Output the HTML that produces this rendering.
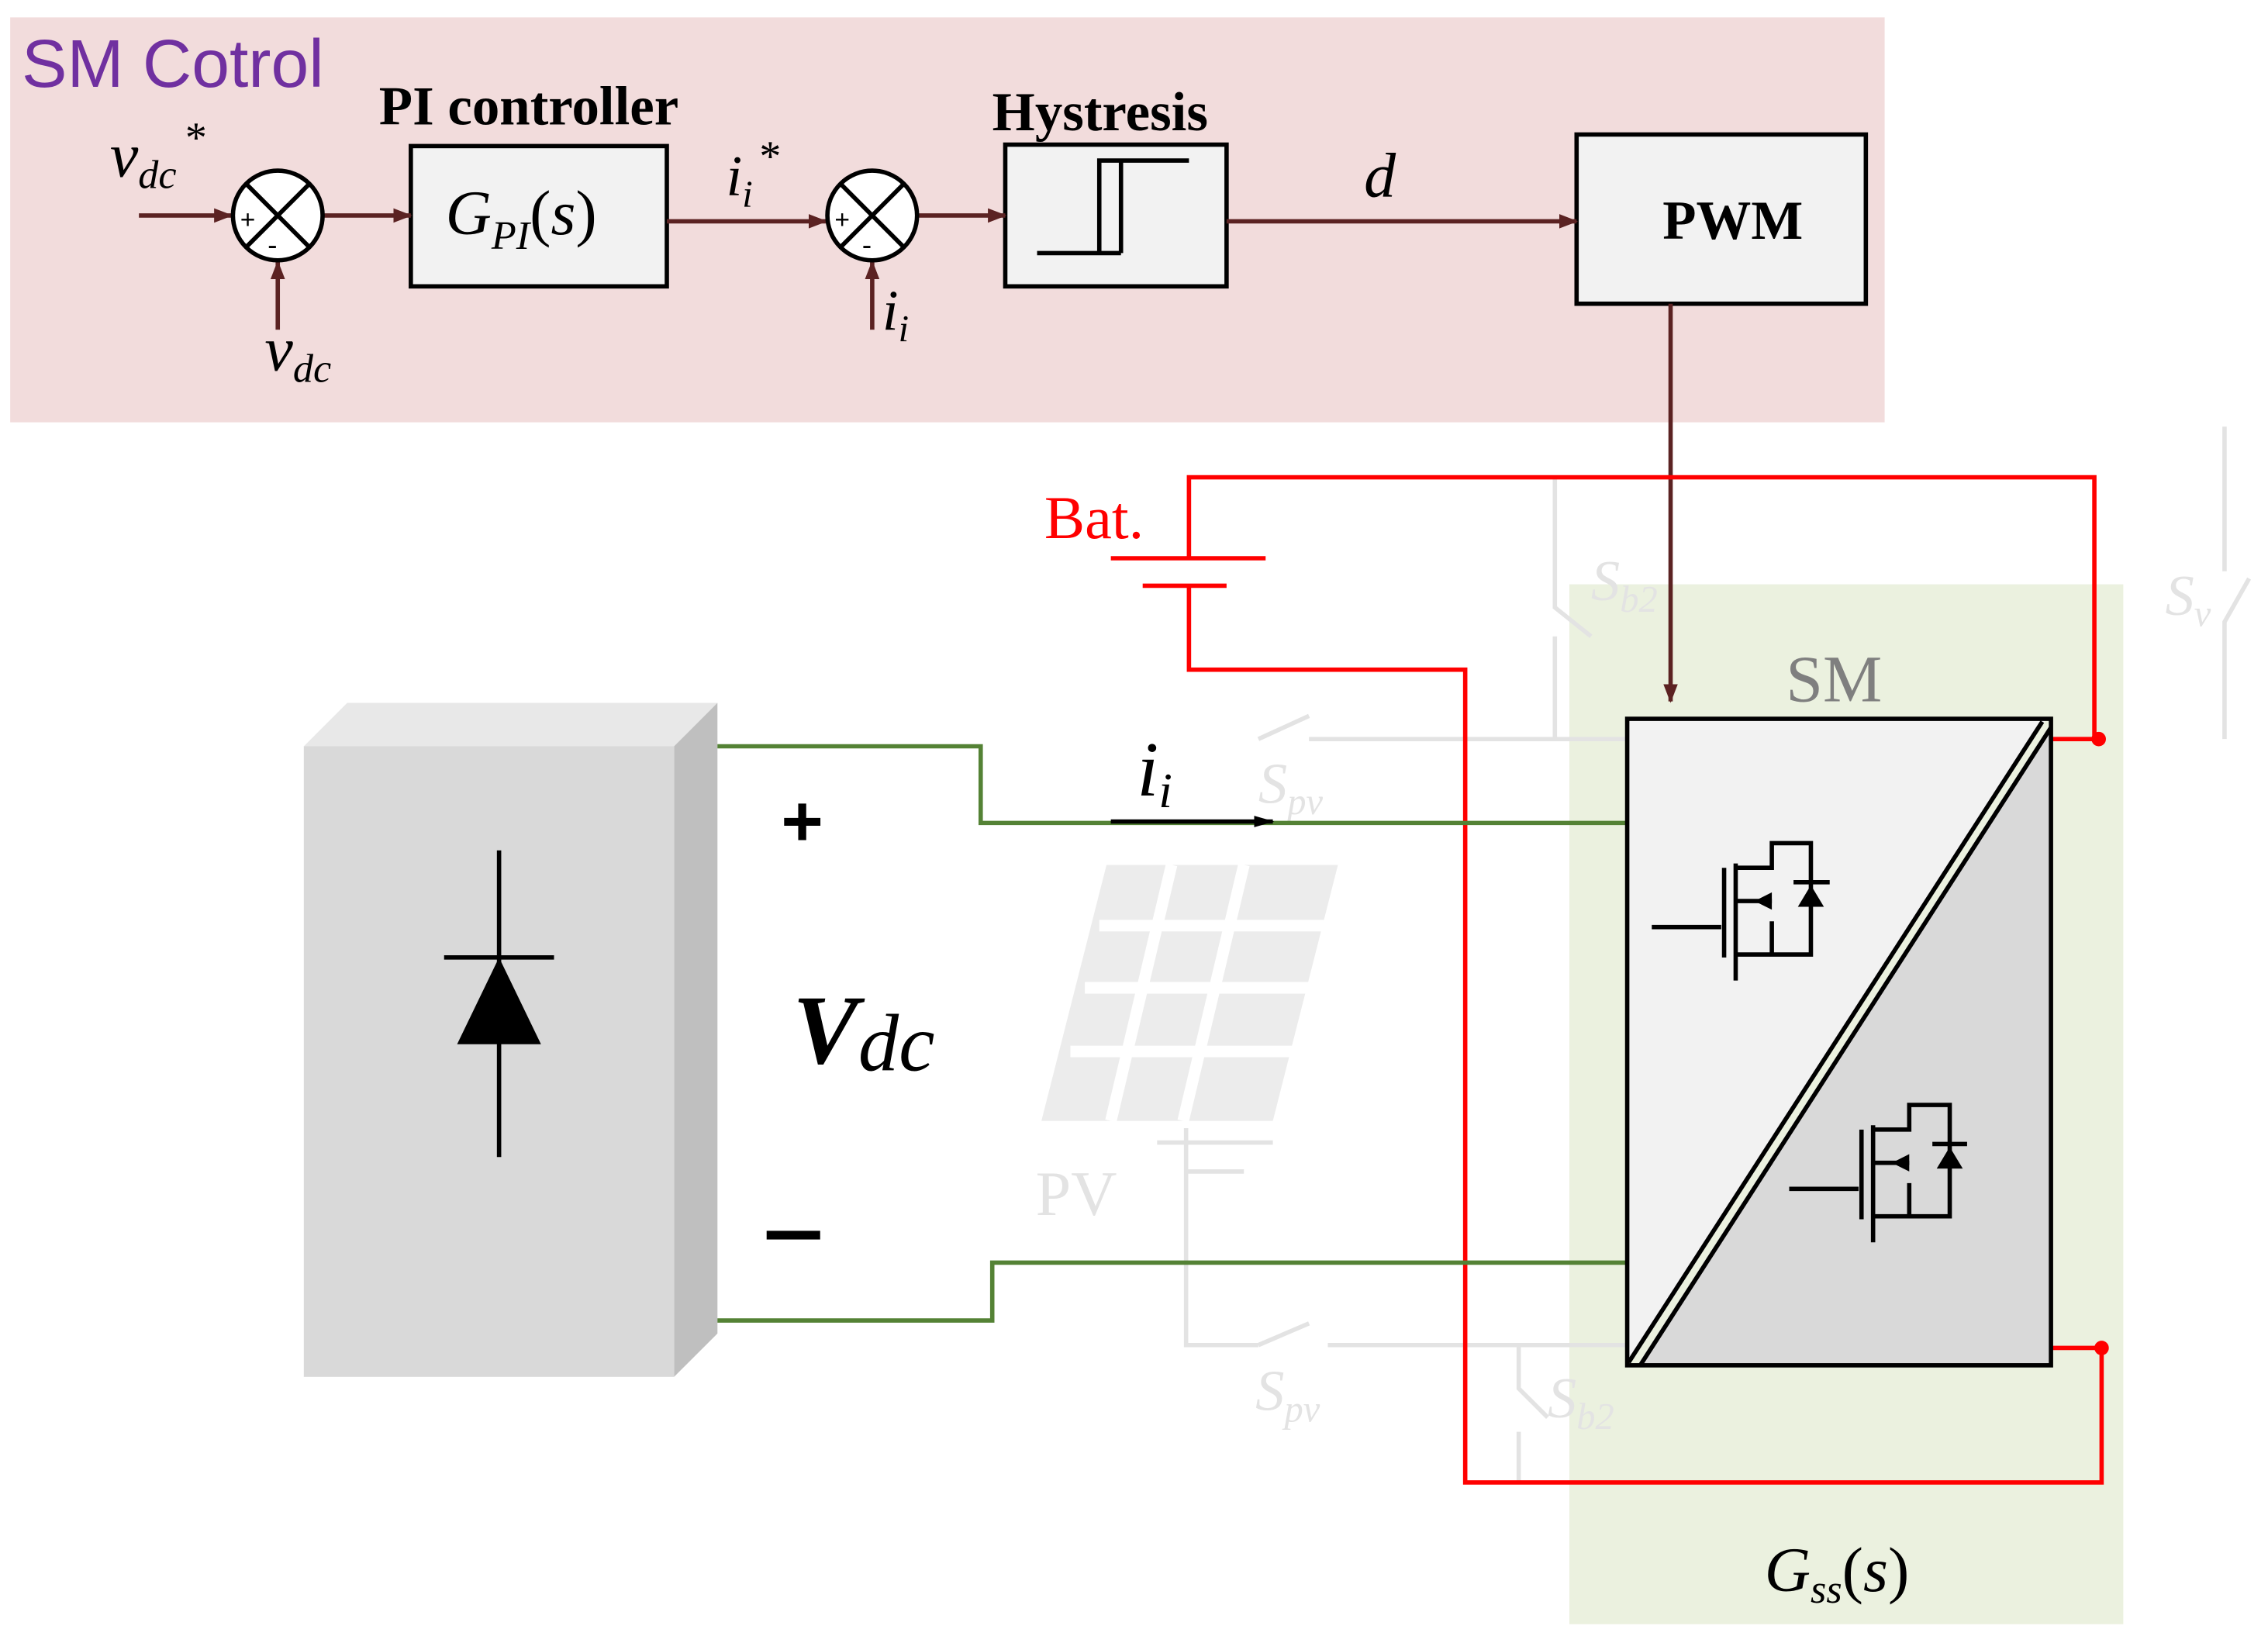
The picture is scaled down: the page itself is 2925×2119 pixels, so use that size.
<!DOCTYPE html>
<html><head><meta charset="utf-8"><style>html,body{margin:0;padding:0;background:#fff}svg{display:block}</style></head>
<body>
<svg width="2925" height="2119" viewBox="0 0 1568 1136" xmlns="http://www.w3.org/2000/svg">
<defs>
<marker id="ar" markerWidth="13" markerHeight="12" refX="12" refY="6" orient="auto" markerUnits="userSpaceOnUse"><path d="M0,1 L13,6 L0,11 Z" fill="#5b2222"/></marker>
<marker id="ak" markerWidth="14" markerHeight="10" refX="13" refY="5" orient="auto" markerUnits="userSpaceOnUse"><path d="M0,1 L14,5 L0,9 Z" fill="#000"/></marker>
</defs>
<rect x="7" y="12" width="1296" height="280" fill="#f2dcdc"/>
<rect x="1085" y="404" width="383" height="719" fill="#ebf1df"/>
<g stroke="#e3e3e3" stroke-width="3" fill="none">
<path d="M1075,330 V420 L1100,440 M1075,440 V511 H1125"/>
<path d="M1538,295 V395 M1555,400 L1538,430 V511"/>
<path d="M820,780 V930 H870 M905,915 L870,930 M918,930 H1125"/>
<path d="M1050,930 V960 L1070,980 M1050,990 V1025"/>
<path d="M870,511 L905,495 M905,511 H1075"/>
<path d="M800,790 H880 M820,810 H860"/>
</g>
<g fill="#ececec">
<polygon points="765,598 925,598 880,775 720,775"/>
</g>
<g stroke="#fff" stroke-width="8">
<line x1="760" y1="640" x2="918" y2="640"/><line x1="750" y1="683" x2="907" y2="683"/><line x1="740" y1="727" x2="896" y2="727"/>
<line x1="810" y1="598" x2="768" y2="775"/><line x1="860" y1="598" x2="818" y2="775"/>
</g>
<text x="716" y="840" font-family="Liberation Serif" font-size="44" fill="#e3e3e3">PV</text>
<text x="870" y="555" font-family="Liberation Serif" font-style="italic" font-size="40" fill="#e3e3e3">S<tspan font-size="26" dy="8">pv</tspan></text>
<text x="868" y="975" font-family="Liberation Serif" font-style="italic" font-size="40" fill="#e3e3e3">S<tspan font-size="26" dy="8">pv</tspan></text>
<text x="1100" y="415" font-family="Liberation Serif" font-style="italic" font-size="40" fill="#e3e3e3">S<tspan font-size="26" dy="8">b2</tspan></text>
<text x="1070" y="980" font-family="Liberation Serif" font-style="italic" font-size="40" fill="#e3e3e3">S<tspan font-size="26" dy="8">b2</tspan></text>
<text x="1497" y="425" font-family="Liberation Serif" font-style="italic" font-size="40" fill="#e3e3e3">S<tspan font-size="26" dy="8">v</tspan></text>

<text x="15" y="60" font-family="Liberation Sans" font-size="47" fill="#7030a0">SM Cotrol</text>
<text x="262" y="86" font-family="Liberation Serif" font-weight="bold" font-size="38">PI controller</text>
<text x="686" y="90" font-family="Liberation Serif" font-weight="bold" font-size="38">Hystresis</text>
<g stroke="#000" stroke-width="3" fill="#f2f2f2">
<rect x="284" y="101" width="177" height="97"/>
<rect x="695" y="100" width="153" height="98"/>
<rect x="1090" y="93" width="200" height="117"/>
</g>
<path d="M717,175 H775 M760,175 V111 H822 M775,111 V175" stroke="#000" stroke-width="3" fill="none"/>
<text x="1198" y="165" text-anchor="middle" font-family="Liberation Serif" font-weight="bold" font-size="38">PWM</text>
<text x="308" y="162" font-family="Liberation Serif" font-style="italic" font-size="44">G<tspan font-size="28" dy="10">PI</tspan><tspan dy="-10" font-style="normal">(</tspan>s<tspan font-style="normal">)</tspan></text>
<text x="76" y="122" font-family="Liberation Serif" font-style="italic" font-size="44">v<tspan font-size="28" dy="8">dc</tspan></text>
<text x="128" y="105" font-family="Liberation Serif" font-size="30">*</text>
<text x="183" y="256" font-family="Liberation Serif" font-style="italic" font-size="44">v<tspan font-size="28" dy="8">dc</tspan></text>
<text x="502" y="135" font-family="Liberation Serif" font-style="italic" font-size="40">i<tspan font-size="26" dy="8">i</tspan></text>
<text x="525" y="118" font-family="Liberation Serif" font-size="30">*</text>
<text x="610" y="228" font-family="Liberation Serif" font-style="italic" font-size="40">i<tspan font-size="26" dy="8">i</tspan></text>
<text x="943" y="136" font-family="Liberation Serif" font-style="italic" font-size="44">d</text>
<g stroke="#5b2222" stroke-width="3" fill="none">
<line x1="96" y1="149" x2="160" y2="149" marker-end="url(#ar)"/>
<line x1="223" y1="149" x2="284" y2="149" marker-end="url(#ar)"/>
<line x1="461" y1="153" x2="571" y2="153" marker-end="url(#ar)"/>
<line x1="634" y1="149" x2="695" y2="149" marker-end="url(#ar)"/>
<line x1="848" y1="153" x2="1090" y2="153" marker-end="url(#ar)"/>
<line x1="192" y1="228" x2="192" y2="181" marker-end="url(#ar)"/>
<line x1="603" y1="228" x2="603" y2="181" marker-end="url(#ar)"/>
<line x1="1155" y1="210" x2="1155" y2="485" marker-end="url(#ar)"/>
</g>
<g stroke="#000" stroke-width="3" fill="#fff">
<circle cx="192" cy="149" r="31"/><circle cx="603" cy="149" r="31"/>
<path d="M170,127 L214,171 M214,127 L170,171 M581,127 L625,171 M625,127 L581,171" fill="none"/>
</g>
<text x="166" y="158" font-family="Liberation Sans" font-size="18">+</text>
<text x="185" y="176" font-family="Liberation Sans" font-size="20">-</text>
<text x="577" y="158" font-family="Liberation Sans" font-size="18">+</text>
<text x="596" y="176" font-family="Liberation Sans" font-size="20">-</text>

<g stroke="#ff0000" stroke-width="3" fill="none">
<path d="M822,385 V330 H1448 V511 H1418"/>
<path d="M822,405 V463 H1013 V1025 H1453 V932 H1418"/>
<line x1="768" y1="386" x2="875" y2="386"/>
<line x1="790" y1="405" x2="848" y2="405"/>
</g>
<circle cx="1451" cy="511" r="5" fill="#ff0000"/>
<circle cx="1453" cy="932" r="5" fill="#ff0000"/>
<text x="722" y="372" font-family="Liberation Serif" font-size="42" fill="#ff0000">Bat.</text>

<polygon points="210,516 240,486 496,486 466,516" fill="#e8e8e8"/>
<polygon points="466,516 496,486 496,922 466,952" fill="#bfbfbf"/>
<rect x="210" y="516" width="256" height="436" fill="#d9d9d9"/>
<line x1="345" y1="588" x2="345" y2="800" stroke="#000" stroke-width="3"/>
<line x1="307" y1="662" x2="383" y2="662" stroke="#000" stroke-width="3"/>
<polygon points="345,662 316,722 374,722" fill="#000"/>

<g stroke="#548235" stroke-width="3" fill="none">
<path d="M496,516 H678 V569 H1127"/>
<path d="M496,913 H686 V873 H1127"/>
</g>
<text x="540" y="585" font-family="Liberation Sans" font-weight="bold" font-size="50">+</text>
<rect x="530" y="851" width="37" height="6" fill="#000"/>
<text x="548" y="735" font-family="Liberation Serif" font-style="italic" font-weight="bold" font-size="68">V<tspan font-size="56" dy="5" font-weight="normal">dc</tspan></text>
<line x1="768" y1="568" x2="880" y2="568" stroke="#000" stroke-width="3" marker-end="url(#ak)"/>
<text x="786" y="550" font-family="Liberation Serif" font-style="italic" font-size="54">i<tspan font-size="34" dy="8">i</tspan></text>

<polygon points="1125,497 1415,497 1125,944" fill="#f2f2f2"/>
<polygon points="1418,500 1418,944 1132,944" fill="#d9d9d9"/>
<rect x="1125" y="497" width="293" height="447" fill="none" stroke="#000" stroke-width="3"/>
<line x1="1126" y1="942" x2="1412" y2="499" stroke="#000" stroke-width="3"/>
<line x1="1134" y1="944" x2="1418" y2="503" stroke="#000" stroke-width="3"/>
<g stroke="#000" stroke-width="3" fill="none">
<path d="M1142,641 H1190 M1192,600 V662 M1200,597 V678 M1200,600 H1225 V583 H1252 V660 H1225 V637 M1200,623 H1225 M1200,660 H1225 M1240,610 H1265"/>
<path d="M1237,822 H1285 M1287,781 V843 M1295,778 V859 M1295,781 H1320 V764 H1348 V841 H1320 V818 M1295,804 H1320 M1295,841 H1320 M1336,791 H1360"/>
</g>
<polygon points="1252,612 1243,627 1261,627" fill="#000"/>
<polygon points="1213,623 1225,617 1225,629" fill="#000"/>
<polygon points="1348,793 1339,808 1357,808" fill="#000"/>
<polygon points="1308,804 1320,798 1320,810" fill="#000"/>
<text x="1268" y="485" text-anchor="middle" font-family="Liberation Serif" font-size="46" fill="#7f7f7f">SM</text>
<text x="1220" y="1100" font-family="Liberation Serif" font-style="italic" font-size="44">G<tspan font-size="28" dy="8">ss</tspan><tspan dy="-8" font-style="normal">(</tspan>s<tspan font-style="normal">)</tspan></text>
</svg>
</body></html>
